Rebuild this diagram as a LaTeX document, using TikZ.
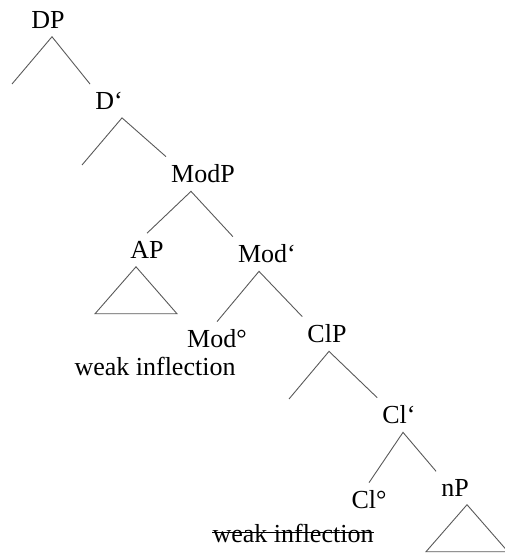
\documentclass[tikz,border=0pt]{standalone}
\usepackage{fontspec}
\setmainfont{Liberation Serif}

\begin{document}
\begin{tikzpicture}[x=1pt,y=-1pt,
        cat/.style={inner xsep=5pt,inner ysep=8pt,font=\fontsize{26}{31}\selectfont},
        gloss/.style={inner sep=0pt,font=\fontsize{26}{31}\selectfont},
        branch/.style={draw=black!65,line width=0.9pt}]
            \useasboundingbox (0,0) rectangle (504,553);
            % labels
            \node[cat] (DP) at (48,20) {DP};
            \node[cat] (Dbar) at (109,101) {D‘};
            \node[cat] (ModP) at (203,174) {ModP};
            \node[cat] (AP) at (147,250) {AP};
            \node[cat] (Modbar) at (267,254) {Mod‘};
            \node[cat] (Mod0) at (217,339) {Mod°};
            \node[gloss] (weak1) at (155,366) {weak inflection};
            \node[cat] (ClP) at (327,334) {ClP};
            \node[cat] (Clbar) at (399,415) {Cl‘};
            \node[cat] (Cl0) at (369,500) {Cl°};
            \node[cat] (nP) at (455,488) {nP};
            \node[gloss] (weak2) at (293,533) {weak inflection};
            \coordinate (DPleft) at (12,84);
            \coordinate (Dbarleft) at (82,165);
            \coordinate (ClPleft) at (289,399);
            % branches
            \draw[branch] (DPleft) -- ([xshift=4pt]DP.south) -- (Dbar.north west);
            \draw[branch] (Dbarleft) -- ([xshift=13pt]Dbar.south) -- (ModP.north west);
            \draw[branch] (AP.north) -- ([xshift=-12pt]ModP.south) -- (Modbar.north west);
            \draw[branch] (Mod0.north) -- ([xshift=-8pt]Modbar.south) -- (ClP.north west);
            \draw[branch] (ClPleft) -- ([xshift=2pt]ClP.south) -- (Clbar.north west);
            \draw[branch] (Cl0.north) -- ([xshift=4pt]Clbar.south) -- (nP.north west);
            % triangles
            \draw[branch] ([xshift=-11pt]AP.south) -- ++(-41,47) -- ++(82,0) -- cycle;
            \draw[branch] ([xshift=12pt]nP.south) -- ++(-41,47) -- ++(82,0) -- cycle;
            \draw[line width=0.9pt] ([yshift=1pt]weak2.west) -- ([yshift=1pt]weak2.east); % struck out
        \end{tikzpicture}
\end{document}
